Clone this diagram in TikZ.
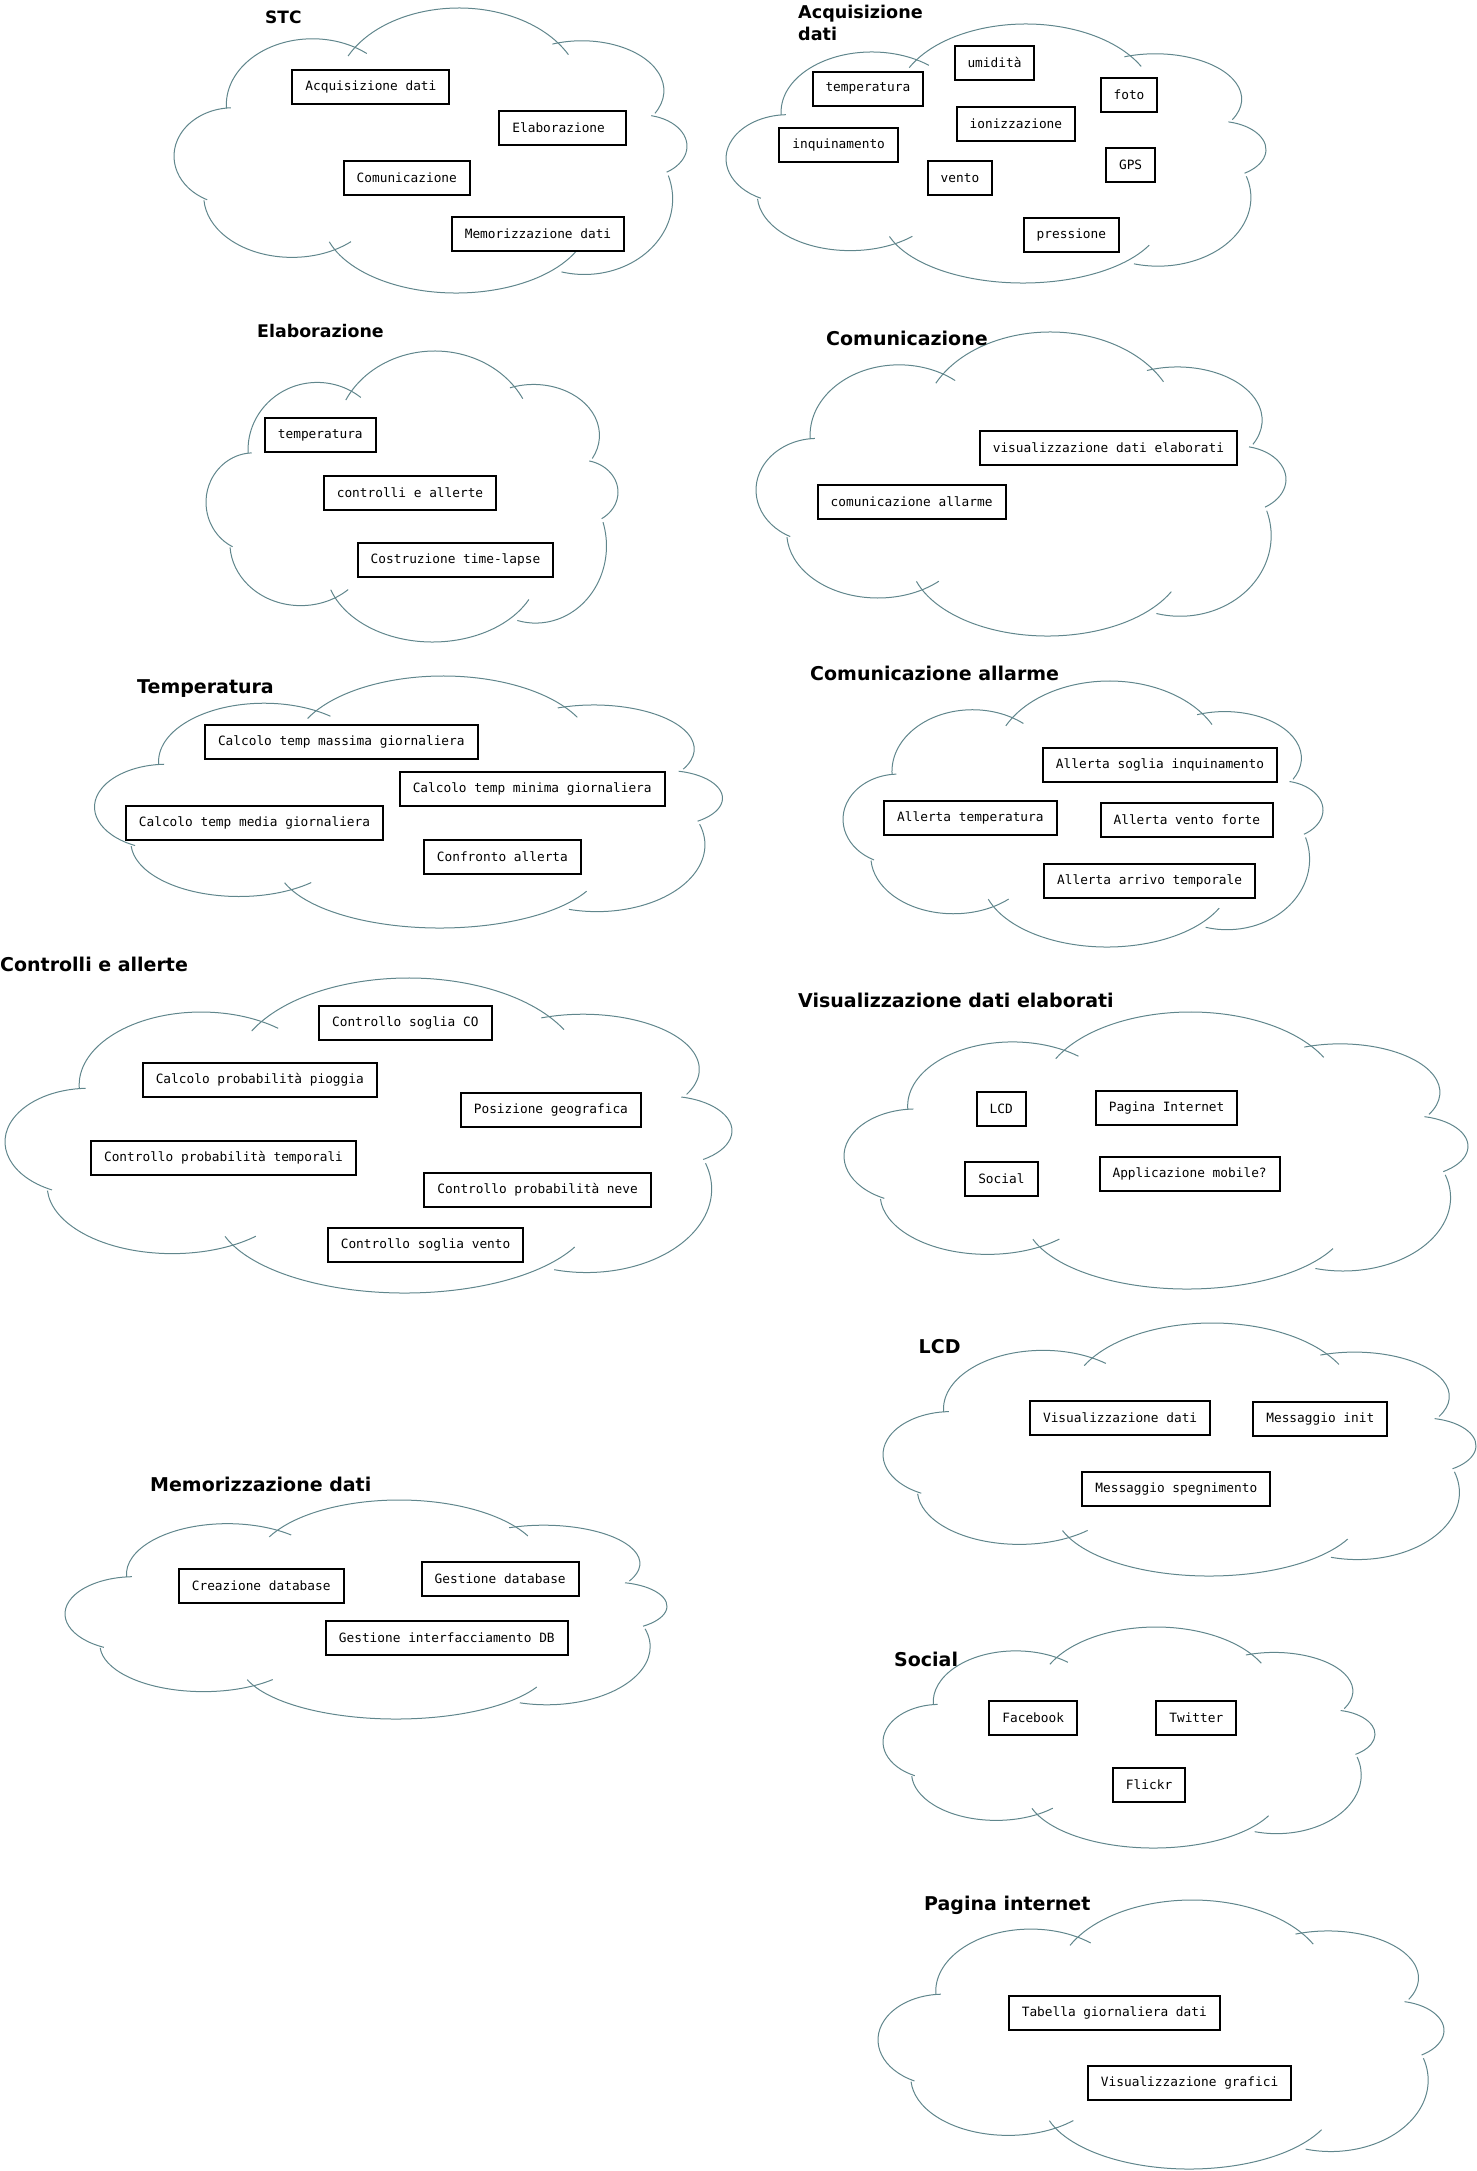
\documentclass[tikz,border=0pt]{standalone}
\usepackage{fontspec}
\usepackage{xcolor}
\usepackage{tikz}
\newfontfamily\monofont{DejaVu Sans Mono}
\newfontfamily\headfont{DejaVu Sans}
\definecolor{cloudline}{RGB}{96,134,140}
\tikzset{
puff/.style={draw=cloudline, line width=1pt},
item/.style={%
    rectangle,
    draw=black,
    line width=2pt,
    inner xsep=13pt,
    inner ysep=0pt,
    minimum height=34pt,
    % Font
    font=\monofont\fontsize{12.8pt}{15pt}\selectfont
},
heading/.style={%
    anchor=base west, inner sep=0pt, align=left,
    font=\headfont\bfseries\fontsize{#1}{21.7pt}\selectfont
},
heading/.default=19pt,
}
% cloud outline: left, top, width, height
\newcommand{\puffcloud}[4]{%
	\begin{scope}[shift={(#1,#2+#4)}, xscale=#3, yscale=-#4]
		\foreach \cx/\cy/\rx/\ry/\sa/\ea in {%
			0.27/0.66/0.168/0.232/183/51,
			0.555/0.70/0.24/0.30/154/27,
			0.795/0.71/0.16/0.175/111/-27,
			0.91/0.515/0.09/0.11/77/-56,
			0.80/0.33/0.172/0.265/18/-105,
			0.55/0.26/0.26/0.26/-26/-162,
			0.23/0.34/0.172/0.215/-48/-176,
			0.115/0.48/0.115/0.17/244/92}
			\draw[puff] (\cx,\cy) ++({\rx*cos(\sa)},{\ry*sin(\sa)}) arc[start angle=\sa, end angle=\ea, x radius=\rx, y radius=\ry];
	\end{scope}}

\begin{document}
\begin{tikzpicture}[x=1pt, y=-1pt]
	\useasboundingbox (0,0) rectangle (1477,2171);

	\puffcloud{174}{8}{513}{285}
	\node[heading=17pt] (stc) at (265,23.3) {STC};
	\node[item] (stc-acq) at (370.9,87) {Acquisizione dati};
	\node[item, text width=101pt] (stc-ela) at (562.9,127.8) {Elaborazione};
	\node[item] (stc-com) at (406.8,178) {Comunicazione};
	\node[item] (stc-mem) at (538,234) {Memorizzazione dati};

	\puffcloud{726}{24}{540}{259}
	\node[heading=17.6pt] (acq) at (798,40) {Acquisizione\\dati};
	\node[item] (acq-umi) at (994.5,62.8) {umidità};
	\node[item] (acq-temp) at (867.9,88.8) {temperatura};
	\node[item] (acq-foto) at (1129,94.8) {foto};
	\node[item] (acq-ion) at (1015.9,123.8) {ionizzazione};
	\node[item] (acq-inq) at (838.7,144.8) {inquinamento};
	\node[item] (acq-gps) at (1130.6,164.8) {GPS};
	\node[item] (acq-vento) at (960,177.8) {vento};
	\node[item] (acq-press) at (1071.4,234.8) {pressione};

	\puffcloud{206}{351}{412}{291}
	\node[heading=17.4pt] (ela) at (257,337) {Elaborazione};
	\node[item] (ela-temp) at (320.3,435) {temperatura};
	\node[item] (ela-ctrl) at (410,493) {controlli e allerte};
	\node[item] (ela-tl) at (455.5,560) {Costruzione time-lapse};

	\puffcloud{756}{332}{530}{304}
	\node[heading] (com) at (826,345) {Comunicazione};
	\node[item] (com-vis) at (1108.4,447.8) {visualizzazione dati elaborati};
	\node[item] (com-all) at (911.6,501.8) {comunicazione allarme};

	\puffcloud{94.5}{676}{628}{252}
	\node[heading] (temp) at (137,693) {Temperatura};
	\node[item] (temp-max) at (341.3,741.7) {Calcolo temp massima giornaliera};
	\node[item] (temp-min) at (532.2,788.8) {Calcolo temp minima giornaliera};
	\node[item] (temp-med) at (254.5,822.8) {Calcolo temp media giornaliera};
	\node[item] (temp-conf) at (502.4,856.8) {Confronto allerta};

	\puffcloud{5}{978}{727}{315}
	\node[heading] (ctrl) at (0,971) {Controlli e allerte};
	\node[item] (ctrl-co) at (405.3,1022.7) {Controllo soglia CO};
	\node[item] (ctrl-pio) at (259.8,1079.8) {Calcolo probabilità pioggia};
	\node[item] (ctrl-geo) at (550.9,1110) {Posizione geografica};
	\node[item] (ctrl-tem) at (223.5,1158) {Controllo probabilità temporali};
	\node[item] (ctrl-neve) at (537.6,1189.8) {Controllo probabilità neve};
	\node[item] (ctrl-vento) at (425.6,1244.8) {Controllo soglia vento};

	\puffcloud{843}{681}{480}{266}
	\node[heading] (all) at (810,680) {Comunicazione allarme};
	\node[item] (all-inq) at (1160,764.8) {Allerta soglia inquinamento};
	\node[item] (all-temp) at (970.4,817.8) {Allerta temperatura};
	\node[item] (all-vento) at (1186.8,819.8) {Allerta vento forte};
	\node[item] (all-arrivo) at (1149.6,880.5) {Allerta arrivo temporale};

	\puffcloud{844}{1012}{624}{277}
	\node[heading] (vis) at (798,1007) {Visualizzazione dati elaborati};
	\node[item] (vis-lcd) at (1001.2,1108.8) {LCD};
	\node[item] (vis-web) at (1166.6,1107.8) {Pagina Internet};
	\node[item] (vis-social) at (1001.4,1178.8) {Social};
	\node[item] (vis-app) at (1189.6,1173.8) {Applicazione mobile?};

	\puffcloud{883}{1323}{593}{253}
	\node[heading] (lcd) at (918.5,1353) {LCD};
	\node[item] (lcd-dati) at (1120.1,1417.8) {Visualizzazione dati};
	\node[item] (lcd-init) at (1320.3,1418.8) {Messaggio init};
	\node[item] (lcd-off) at (1176.3,1489) {Messaggio spegnimento};

	\puffcloud{65}{1500}{602}{219}
	\node[heading] (mem) at (150,1491) {Memorizzazione dati};
	\node[item] (mem-crea) at (261.2,1585.8) {Creazione database};
	\node[item] (mem-gest) at (500.2,1578.8) {Gestione database};
	\node[item] (mem-db) at (446.8,1637.5) {Gestione interfacciamento DB};

	\puffcloud{883}{1627}{492}{221}
	\node[heading] (soc) at (894,1666) {Social};
	\node[item] (soc-fb) at (1033.2,1717.8) {Facebook};
	\node[item] (soc-tw) at (1196.3,1717.8) {Twitter};
	\node[item] (soc-fl) at (1149.1,1784.8) {Flickr};

	\puffcloud{878}{1900}{566}{269}
	\node[heading] (web) at (924,1910) {Pagina internet};
	\node[item] (web-tab) at (1114.3,2013) {Tabella giornaliera dati};
	\node[item] (web-graf) at (1189.6,2082.8) {Visualizzazione grafici};
\end{tikzpicture}
\end{document}
